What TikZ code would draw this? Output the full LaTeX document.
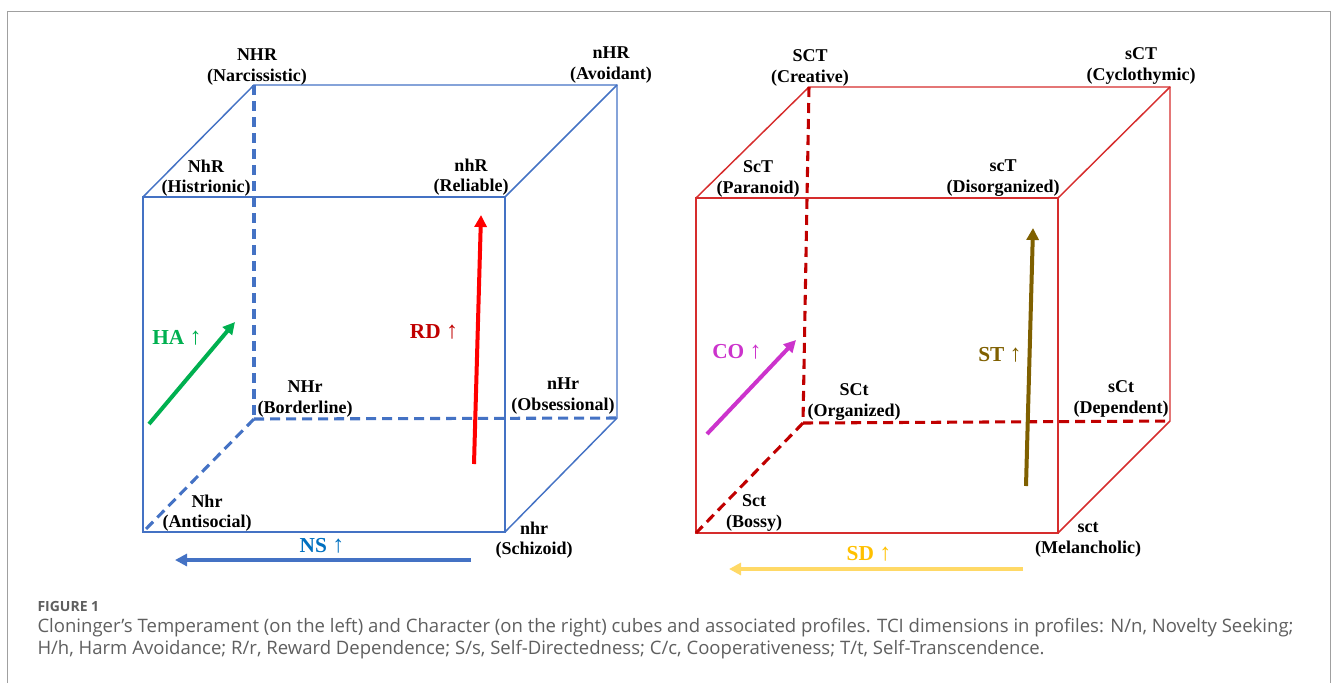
\documentclass[tikz,border=0pt]{standalone}
\usepackage{fontspec}
\setmainfont{Liberation Serif}
\newfontfamily\capfont{Open Sans}
\usetikzlibrary{arrows.meta}

\definecolor{tempblue}{RGB}{68,114,196}
\definecolor{charred}{RGB}{214,45,45}
\definecolor{dashred}{RGB}{192,0,0}
\definecolor{hagreen}{RGB}{0,176,80}
\definecolor{rdred}{RGB}{255,0,0}
\definecolor{rdlabel}{RGB}{192,0,0}
\definecolor{nslabel}{RGB}{0,112,192}
\definecolor{comagenta}{RGB}{204,51,204}
\definecolor{stbrown}{RGB}{127,96,0}
\definecolor{sdyellow}{RGB}{255,217,102}
\definecolor{sdlabel}{RGB}{255,192,0}
\definecolor{capgray}{RGB}{95,95,95}
\definecolor{framegray}{RGB}{160,160,160}

\newcommand{\uparr}{{\mdseries\fontsize{18}{18}\selectfont ↑}}

\tikzset{every picture/.style={line width=0.75pt}}

\begin{document}
\begin{tikzpicture}[x=0.75pt,y=0.75pt,yscale=-1,xscale=1,
  profile/.style={font=\fontsize{13.5}{15.5}\selectfont\bfseries, align=center, inner sep=0pt},
  dimlabel/.style={font=\fontsize{16}{18}\selectfont\bfseries, inner sep=0pt},
  edge/.style={line width=1.1pt},
  hidden/.style={line width=2.3pt, dash pattern=on 7.5pt off 4.5pt},
  dimarrow/.style={line width=3pt, -{Triangle[length=9pt,width=9pt]}},
  captext/.style={anchor=west, inner sep=0pt, text=capgray, font=\capfont\fontsize{13.9}{16}\selectfont}]

\useasboundingbox (0,0) rectangle (1331,683);

%Frame
\draw [color=framegray] (7,683) -- (7,11) -- (1330,11) -- (1330,683) ;

%%%% Temperament cube (left)
\coordinate (lF1) at (143,197);
\coordinate (lF2) at (505,197);
\coordinate (lF3) at (505,532);
\coordinate (lF4) at (143,532);
\coordinate (lB1) at (254,85);
\coordinate (lB2) at (617,85);
\coordinate (lB3) at (617,418);
\coordinate (lB4) at (254,419);

%Straight Lines
\draw [color=tempblue, edge] (lF1) -- (lF2) -- (lF3) -- (lF4) -- cycle ;
\draw [color=tempblue, edge] (lF1) -- (lB1) -- (lB2) -- (lB3) -- (lF3) ;
\draw [color=tempblue, edge] (lF2) -- (lB2) ;
%Dashed Lines
\draw [color=tempblue, hidden] (lB1) -- (lB4) ;
\draw [color=tempblue, hidden] (lB4) -- (lB3) ;
\draw [color=tempblue, hidden] (lB4) -- (lF4) ;

% Text Node
\node [profile] (nNHR) at (257,67) {NHR\\(Narcissistic)};
% Text Node
\node [profile] (nnHR) at (611,65) {nHR\\(Avoidant)};
% Text Node
\node [profile] (nNhR) at (206,178) {NhR\\(Histrionic)};
% Text Node
\node [profile] (nnhR) at (471,177) {nhR\\(Reliable)};
% Text Node
\node [profile] (nNHr) at (305,399) {NHr\\(Borderline)};
% Text Node
\node [profile] (nnHr) at (563,396) {nHr\\(Obsessional)};
% Text Node
\node [profile] (nNhr) at (207,513) {Nhr\\(Antisocial)};
% Text Node
\node [profile] (nnhr) at (534,540) {nhr\\(Schizoid)};

%Arrows
\coordinate (ha1) at (149,424);
\coordinate (ha2) at (235,322);
\coordinate (rd1) at (474,464);
\coordinate (rd2) at (481,215);
\coordinate (ns1) at (471,560);
\coordinate (ns2) at (175,560);
\draw [color=hagreen, dimarrow] (ha1) -- (ha2) ;
\draw [color=rdred, dimarrow] (rd1) -- (rd2) ;
\draw [color=tempblue, dimarrow] (ns1) -- (ns2) ;

% Text Node
\node [dimlabel, text=hagreen] (lHA) at (177,338) {HA \uparr};
% Text Node
\node [dimlabel, text=rdlabel] (lRD) at (434,332) {RD \uparr};
% Text Node
\node [dimlabel, text=nslabel] (lNS) at (322,546) {NS \uparr};

%%%% Character cube (right)
\coordinate (rF1) at (696,198);
\coordinate (rF2) at (1058,198);
\coordinate (rF3) at (1058,533);
\coordinate (rF4) at (696,533);
\coordinate (rB1) at (809,87);
\coordinate (rB2) at (1170,87);
\coordinate (rB3) at (1170,421);
\coordinate (rB4) at (803,423);

%Straight Lines
\draw [color=charred, edge] (rF1) -- (rF2) -- (rF3) -- (rF4) -- cycle ;
\draw [color=charred, edge] (rF1) -- (rB1) -- (rB2) -- (rB3) -- (rF3) ;
\draw [color=charred, edge] (rF2) -- (rB2) ;
%Dashed Lines
\draw [color=dashred, hidden] (rB1) -- (rB4) ;
\draw [color=dashred, hidden] (rB4) -- (rB3) ;
\draw [color=dashred, hidden] (rB4) -- (rF4) ;

% Text Node
\node [profile] (nSCT) at (810,68) {SCT\\(Creative)};
% Text Node
\node [profile] (nsCT) at (1141,66) {sCT\\(Cyclothymic)};
% Text Node
\node [profile] (nScT) at (758,179) {ScT\\(Paranoid)};
% Text Node
\node [profile] (nscT) at (1003,178) {scT\\(Disorganized)};
% Text Node
\node [profile] (nSCt) at (854,402) {SCt\\(Organized)};
% Text Node
\node [profile] (nsCt) at (1121,399) {sCt\\(Dependent)};
% Text Node
\node [profile] (nSct) at (754,513) {Sct\\(Bossy)};
% Text Node
\node [profile] (nsct) at (1088,540) {sct\\(Melancholic)};

%Arrows
\coordinate (co1) at (707,434);
\coordinate (co2) at (796,340);
\coordinate (st1) at (1026,486);
\coordinate (st2) at (1033,228);
\coordinate (sd1) at (1023,569);
\coordinate (sd2) at (729,569);
\draw [color=comagenta, dimarrow] (co1) -- (co2) ;
\draw [color=stbrown, dimarrow] (st1) -- (st2) ;
\draw [color=sdyellow, dimarrow] (sd1) -- (sd2) ;

% Text Node
\node [dimlabel, text=comagenta] (lCO) at (737,352) {CO \uparr};
% Text Node
\node [dimlabel, text=stbrown] (lST) at (1000,355) {ST \uparr};
% Text Node
\node [dimlabel, text=sdlabel] (lSD) at (869,554) {SD \uparr};

%%%% Caption
\node [captext, font=\capfont\bfseries\fontsize{10.5}{12}\selectfont] (figno) at (37,606) {FIGURE 1};
\node [captext] (cap1) at (37,628) {Cloninger’s Temperament (on the left) and Character (on the right) cubes and associated profiles. TCI dimensions in profiles: N/n, Novelty Seeking;};
\node [captext] (cap2) at (37,650) {H/h, Harm Avoidance; R/r, Reward Dependence; S/s, Self-Directedness; C/c, Cooperativeness; T/t, Self-Transcendence.};

\end{tikzpicture}
\end{document}
